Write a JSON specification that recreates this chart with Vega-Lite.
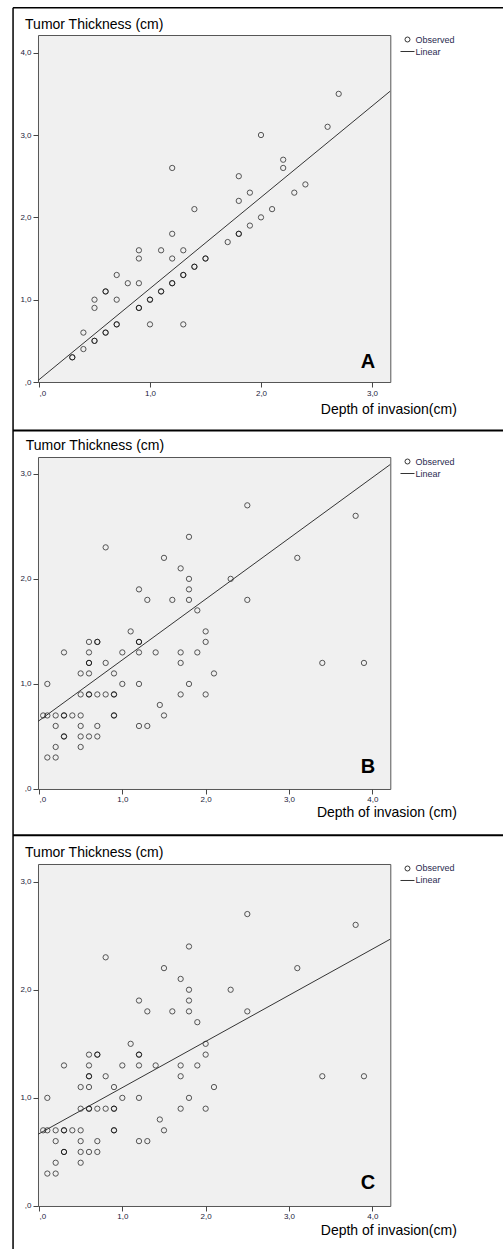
{
  "$schema": "https://vega.github.io/schema/vega-lite/v6.json",
  "padding": {"left": 11, "top": 6, "right": 0, "bottom": 0},
  "background": "white",
  "bounds": "flush",
  "spacing": 75,
  "datasets": {
    "a": [
      {"depth":0.3,"thickness":0.3},{"depth":0.3,"thickness":0.3},
      {"depth":0.4,"thickness":0.6},{"depth":0.4,"thickness":0.4},
      {"depth":0.5,"thickness":1.0},{"depth":0.5,"thickness":0.9},{"depth":0.5,"thickness":0.5},{"depth":0.5,"thickness":0.5},
      {"depth":0.6,"thickness":1.1},{"depth":0.6,"thickness":1.1},{"depth":0.6,"thickness":0.6},{"depth":0.6,"thickness":0.6},
      {"depth":0.7,"thickness":1.3},{"depth":0.7,"thickness":1.0},{"depth":0.7,"thickness":0.7},{"depth":0.7,"thickness":0.7},
      {"depth":0.8,"thickness":1.2},
      {"depth":0.9,"thickness":1.6},{"depth":0.9,"thickness":1.5},{"depth":0.9,"thickness":1.2},{"depth":0.9,"thickness":0.9},{"depth":0.9,"thickness":0.9},
      {"depth":1.0,"thickness":1.0},{"depth":1.0,"thickness":1.0},{"depth":1.0,"thickness":0.7},
      {"depth":1.1,"thickness":1.6},{"depth":1.1,"thickness":1.1},{"depth":1.1,"thickness":1.1},
      {"depth":1.2,"thickness":2.6},{"depth":1.2,"thickness":1.8},{"depth":1.2,"thickness":1.5},{"depth":1.2,"thickness":1.2},{"depth":1.2,"thickness":1.2},
      {"depth":1.3,"thickness":1.6},{"depth":1.3,"thickness":1.3},{"depth":1.3,"thickness":1.3},{"depth":1.3,"thickness":0.7},
      {"depth":1.4,"thickness":2.1},{"depth":1.4,"thickness":1.4},{"depth":1.4,"thickness":1.4},
      {"depth":1.5,"thickness":1.5},{"depth":1.5,"thickness":1.5},
      {"depth":1.7,"thickness":1.7},
      {"depth":1.8,"thickness":2.5},{"depth":1.8,"thickness":2.2},{"depth":1.8,"thickness":1.8},{"depth":1.8,"thickness":1.8},
      {"depth":1.9,"thickness":2.3},{"depth":1.9,"thickness":1.9},
      {"depth":2.0,"thickness":3.0},{"depth":2.0,"thickness":2.0},
      {"depth":2.1,"thickness":2.1},
      {"depth":2.2,"thickness":2.7},{"depth":2.2,"thickness":2.6},
      {"depth":2.3,"thickness":2.3},{"depth":2.4,"thickness":2.4},
      {"depth":2.6,"thickness":3.1},{"depth":2.7,"thickness":3.5}
    ],
    "bc": [
      {"depth":0.05,"thickness":0.7},{"depth":0.1,"thickness":0.7},{"depth":0.1,"thickness":1.0},{"depth":0.1,"thickness":0.3},
      {"depth":0.2,"thickness":0.7},{"depth":0.2,"thickness":0.6},{"depth":0.2,"thickness":0.4},{"depth":0.2,"thickness":0.3},
      {"depth":0.3,"thickness":1.3},{"depth":0.3,"thickness":0.7},{"depth":0.3,"thickness":0.7},{"depth":0.3,"thickness":0.5},{"depth":0.3,"thickness":0.5},
      {"depth":0.4,"thickness":0.7},
      {"depth":0.5,"thickness":1.1},{"depth":0.5,"thickness":0.9},{"depth":0.5,"thickness":0.7},{"depth":0.5,"thickness":0.6},{"depth":0.5,"thickness":0.5},{"depth":0.5,"thickness":0.4},
      {"depth":0.6,"thickness":1.4},{"depth":0.6,"thickness":1.3},{"depth":0.6,"thickness":1.2},{"depth":0.6,"thickness":1.2},{"depth":0.6,"thickness":1.1},{"depth":0.6,"thickness":0.9},{"depth":0.6,"thickness":0.9},{"depth":0.6,"thickness":0.5},
      {"depth":0.7,"thickness":1.4},{"depth":0.7,"thickness":1.4},{"depth":0.7,"thickness":0.9},{"depth":0.7,"thickness":0.6},{"depth":0.7,"thickness":0.5},
      {"depth":0.8,"thickness":2.3},{"depth":0.8,"thickness":1.2},{"depth":0.8,"thickness":0.9},
      {"depth":0.9,"thickness":1.1},{"depth":0.9,"thickness":0.9},{"depth":0.9,"thickness":0.9},{"depth":0.9,"thickness":0.7},{"depth":0.9,"thickness":0.7},
      {"depth":1.0,"thickness":1.3},{"depth":1.0,"thickness":1.0},
      {"depth":1.1,"thickness":1.5},
      {"depth":1.2,"thickness":1.9},{"depth":1.2,"thickness":1.4},{"depth":1.2,"thickness":1.4},{"depth":1.2,"thickness":1.3},{"depth":1.2,"thickness":1.0},{"depth":1.2,"thickness":0.6},
      {"depth":1.3,"thickness":1.8},{"depth":1.3,"thickness":0.6},
      {"depth":1.4,"thickness":1.3},{"depth":1.45,"thickness":0.8},
      {"depth":1.5,"thickness":2.2},{"depth":1.5,"thickness":0.7},
      {"depth":1.6,"thickness":1.8},
      {"depth":1.7,"thickness":2.1},{"depth":1.7,"thickness":1.3},{"depth":1.7,"thickness":1.2},{"depth":1.7,"thickness":0.9},
      {"depth":1.8,"thickness":2.4},{"depth":1.8,"thickness":2.0},{"depth":1.8,"thickness":1.9},{"depth":1.8,"thickness":1.8},{"depth":1.8,"thickness":1.0},
      {"depth":1.9,"thickness":1.7},{"depth":1.9,"thickness":1.3},
      {"depth":2.0,"thickness":1.5},{"depth":2.0,"thickness":1.4},{"depth":2.0,"thickness":0.9},
      {"depth":2.1,"thickness":1.1},
      {"depth":2.3,"thickness":2.0},
      {"depth":2.5,"thickness":2.7},{"depth":2.5,"thickness":1.8},
      {"depth":3.1,"thickness":2.2},{"depth":3.4,"thickness":1.2},{"depth":3.8,"thickness":2.6},{"depth":3.9,"thickness":1.2}
    ],
    "lineA": [{"depth":-0.009,"thickness":0.018},{"depth":3.165,"thickness":3.534}],
    "lineB": [{"depth":-0.012,"thickness":0.643},{"depth":4.216,"thickness":3.089}],
    "lineC": [{"depth":-0.012,"thickness":0.663},{"depth":4.216,"thickness":2.468}]
  },
  "resolve": {"scale": {"shape": "independent"}, "legend": {"shape": "independent"}},
  "vconcat": [
    {
      "width": 352.3,
      "height": 347,
      "layer": [
        {
          "data": {"name": "a"},
          "mark": {"type": "point", "filled": false, "size": 28, "color": "#000", "strokeWidth": 1, "opacity": 0.65},
          "encoding": {
            "x": {"field": "depth", "type": "quantitative", "scale": {"domain": [-0.009, 3.165], "nice": false, "zero": false},
                  "axis": {"values": [0, 1, 2, 3], "title": "Depth of invasion(cm)", "titleX": 418.3, "titleY": 31, "titleAlign": "right", "titleBaseline": "alphabetic",
                           "labelExpr": "datum.value == 0 ? ',0' : replace(format(datum.value, '.1f'), '.', ',')"}},
            "y": {"field": "thickness", "type": "quantitative", "scale": {"domain": [0, 4.215], "nice": false, "zero": false},
                  "axis": {"values": [0, 1, 2, 3, 4], "title": "Tumor Thickness (cm)", "titleAngle": 0, "titleX": -13.4, "titleY": -6.7, "titleAlign": "left", "titleBaseline": "alphabetic",
                           "labelExpr": "datum.value == 0 ? ',0' : replace(format(datum.value, '.1f'), '.', ',')"}},
            "shape": {"datum": "Observed", "type": "nominal", "scale": {"domain": ["Observed", "Linear"], "range": ["circle", "M-2.8,0L2.8,0"]}, "legend": {"title": null}}
          }
        },
        {
          "data": {"name": "lineA"},
          "mark": {"type": "line", "color": "#333", "strokeWidth": 1, "clip": true},
          "encoding": {"x": {"field": "depth", "type": "quantitative"}, "y": {"field": "thickness", "type": "quantitative"}}
        },
        {
          "data": {"values": [{"label": "A"}]},
          "mark": {"type": "text", "font": "Liberation Sans", "fontSize": 20, "fontWeight": "bold", "align": "center", "baseline": "alphabetic", "color": "#000"},
          "encoding": {"x": {"datum": 2.964}, "y": {"datum": 0.174}, "text": {"field": "label"}}
        },
        {
          "data": {"values": [{}]},
          "mark": {"type": "rule", "color": "#000", "strokeWidth": 1.5},
          "encoding": {"x": {"datum": -0.2338}, "y": {"datum": 4.546}, "y2": {"datum": -10.531}}
        },
        {
          "data": {"values": [{}]},
          "mark": {"type": "rule", "color": "#000", "strokeWidth": 1.5},
          "encoding": {"x": {"datum": -0.2338}, "x2": {"datum": 4.1874}, "y": {"datum": 4.546}}
        },
        {
          "data": {"values": [{}]},
          "mark": {"type": "rule", "color": "#000", "strokeWidth": 2},
          "encoding": {"x": {"datum": -0.2338}, "x2": {"datum": 4.1874}, "y": {"datum": -0.589}}
        },
        {
          "data": {"values": [{}]},
          "mark": {"type": "rule", "color": "#000", "strokeWidth": 2},
          "encoding": {"x": {"datum": -0.2338}, "x2": {"datum": 4.1874}, "y": {"datum": -5.506}}
        }
      ]
    },
    {
      "width": 352.3,
      "height": 332,
      "layer": [
        {
          "data": {"name": "bc"},
          "mark": {"type": "point", "filled": false, "size": 28, "color": "#000", "strokeWidth": 1, "opacity": 0.65},
          "encoding": {
            "x": {"field": "depth", "type": "quantitative", "scale": {"domain": [-0.012, 4.216], "nice": false, "zero": false},
                  "axis": {"values": [0, 1, 2, 3, 4], "title": "Depth of invasion (cm)", "titleX": 418.3, "titleY": 27.3, "titleAlign": "right", "titleBaseline": "alphabetic",
                           "labelExpr": "datum.value == 0 ? ',0' : replace(format(datum.value, '.1f'), '.', ',')"}},
            "y": {"field": "thickness", "type": "quantitative", "scale": {"domain": [0, 3.16], "nice": false, "zero": false},
                  "axis": {"values": [0, 1, 2, 3], "title": "Tumor Thickness (cm)", "titleAngle": 0, "titleX": -12.7, "titleY": -7.4, "titleAlign": "left", "titleBaseline": "alphabetic",
                           "labelExpr": "datum.value == 0 ? ',0' : replace(format(datum.value, '.1f'), '.', ',')"}},
            "shape": {"datum": "Observed", "type": "nominal", "scale": {"domain": ["Observed", "Linear"], "range": ["circle", "M-2.8,0L2.8,0"]}, "legend": {"title": null}}
          }
        },
        {
          "data": {"name": "lineB"},
          "mark": {"type": "line", "color": "#333", "strokeWidth": 1, "clip": true},
          "encoding": {"x": {"field": "depth", "type": "quantitative"}, "y": {"field": "thickness", "type": "quantitative"}}
        },
        {
          "data": {"values": [{"label": "B"}]},
          "mark": {"type": "text", "font": "Liberation Sans", "fontSize": 20, "fontWeight": "bold", "align": "center", "baseline": "alphabetic", "color": "#000"},
          "encoding": {"x": {"datum": 3.949}, "y": {"datum": 0.149}, "text": {"field": "label"}}
        }
      ]
    },
    {
      "width": 352.3,
      "height": 342,
      "layer": [
        {
          "data": {"name": "bc"},
          "mark": {"type": "point", "filled": false, "size": 28, "color": "#000", "strokeWidth": 1, "opacity": 0.65},
          "encoding": {
            "x": {"field": "depth", "type": "quantitative", "scale": {"domain": [-0.012, 4.216], "nice": false, "zero": false},
                  "axis": {"values": [0, 1, 2, 3, 4], "title": "Depth of invasion(cm)", "titleX": 418.3, "titleY": 29, "titleAlign": "right", "titleBaseline": "alphabetic",
                           "labelExpr": "datum.value == 0 ? ',0' : replace(format(datum.value, '.1f'), '.', ',')"}},
            "y": {"field": "thickness", "type": "quantitative", "scale": {"domain": [0, 3.163], "nice": false, "zero": false},
                  "axis": {"values": [0, 1, 2, 3], "title": "Tumor Thickness (cm)", "titleAngle": 0, "titleX": -13.4, "titleY": -7.3, "titleAlign": "left", "titleBaseline": "alphabetic",
                           "labelExpr": "datum.value == 0 ? ',0' : replace(format(datum.value, '.1f'), '.', ',')"}},
            "shape": {"datum": "Observed", "type": "nominal", "scale": {"domain": ["Observed", "Linear"], "range": ["circle", "M-2.8,0L2.8,0"]}, "legend": {"title": null}}
          }
        },
        {
          "data": {"name": "lineC"},
          "mark": {"type": "line", "color": "#333", "strokeWidth": 1, "clip": true},
          "encoding": {"x": {"field": "depth", "type": "quantitative"}, "y": {"field": "thickness", "type": "quantitative"}}
        },
        {
          "data": {"values": [{"label": "C"}]},
          "mark": {"type": "text", "font": "Liberation Sans", "fontSize": 20, "fontWeight": "bold", "align": "center", "baseline": "alphabetic", "color": "#000"},
          "encoding": {"x": {"datum": 3.948}, "y": {"datum": 0.157}, "text": {"field": "label"}}
        }
      ]
    }
  ],
  "config": {
    "view": {"fill": "#f0f0f0", "stroke": "#555", "strokeWidth": 1},
    "axis": {
      "domain": false, "grid": false, "ticks": true, "tickColor": "#444", "tickSize": 5, "tickWidth": 1,
      "labelFont": "Liberation Sans", "labelFontSize": 8, "labelColor": "#1a1a3a", "labelPadding": 2,
      "titleFont": "Liberation Sans", "titleFontSize": 14, "titleFontWeight": "normal", "titleColor": "#000"
    },
    "legend": {
      "orient": "right", "offset": 12, "padding": 0, "labelFont": "Liberation Sans", "labelFontSize": 9, "labelColor": "#2a2a50",
      "labelOffset": 3.5, "rowPadding": 2, "symbolSize": 25, "symbolStrokeColor": "#333", "symbolStrokeWidth": 1, "symbolFillColor": "transparent", "symbolOpacity": 1
    }
  }
}
